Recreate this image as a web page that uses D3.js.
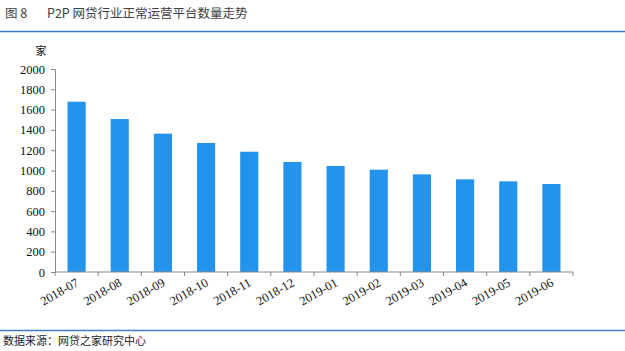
<!DOCTYPE html>
<html>
<head>
<meta charset="utf-8">
<script src="https://cdn.jsdelivr.net/npm/d3@7"></script>
<style>
  body { margin: 0; background: #fff; }
</style>
</head>
<body>
<div id="drawing"></div>
<script>
// chart values
const months = ["2018-07", "2018-08", "2018-09", "2018-10", "2018-11", "2018-12",
                "2019-01", "2019-02", "2019-03", "2019-04", "2019-05", "2019-06"];
const platforms = [1678, 1507, 1363, 1271, 1185, 1084, 1044, 1008, 962, 913, 893, 867];
const yTicks = [0, 200, 400, 600, 800, 1000, 1200, 1400, 1600, 1800, 2000];

const width = 625;
const height = 351;
const plot = {left: 55, right: 573, top: 69, bottom: 272};
const serif = "'Liberation Serif', 'Times New Roman', 'DejaVu Serif', serif";
const cjk = "'Noto Sans CJK SC', 'Noto Sans', sans-serif";

const svg = d3.select("#drawing").append("svg")
  .attr("width", width)
  .attr("height", height)
  .style("background", "#fff");

// header
svg.append("text")
  .attr("x", 5).attr("y", 18)
  .style("font-family", cjk)
  .style("font-size", "12.5px")
  .style("fill", "#404040")
  .text("图 8");
svg.append("text")
  .attr("x", 47).attr("y", 18)
  .style("font-family", cjk)
  .style("font-size", "12.5px")
  .style("fill", "#404040")
  .text("P2P 网贷行业正常运营平台数量走势");
svg.append("line")
  .attr("x1", 0).attr("x2", width)
  .attr("y1", 31.5).attr("y2", 31.5)
  .style("stroke", "#3b7fcf")
  .style("stroke-width", 1.5);

// footer
svg.append("line")
  .attr("x1", 0).attr("x2", width)
  .attr("y1", 330.5).attr("y2", 330.5)
  .style("stroke", "#3b7fcf")
  .style("stroke-width", 1.5);
svg.append("text")
  .attr("x", 3).attr("y", 345)
  .style("font-family", cjk)
  .style("font-size", "11px")
  .style("fill", "#222")
  .text("数据来源：网贷之家研究中心");

const xScale = d3.scaleBand()
  .domain(months)
  .range([plot.left, plot.right])
  .paddingInner(0.58)
  .paddingOuter(0.29);

const yScale = d3.scaleLinear()
  .domain([0, 2000])
  .range([plot.bottom, plot.top]);

// bars
svg.selectAll(".bar")
  .data(months)
  .enter()
  .append("rect")
    .attr("class", "bar")
    .attr("x", (d) => xScale(d))
    .attr("y", (d, i) => yScale(platforms[i]))
    .attr("width", xScale.bandwidth())
    .attr("height", (d, i) => plot.bottom - yScale(platforms[i]))
    .style("fill", "#2393ec");

// y axis
const yAxis = svg.append("g")
  .attr("transform", `translate(${plot.left},0)`)
  .attr("font-family", serif)
  .call(d3.axisLeft(yScale).tickValues(yTicks).tickFormat(d3.format("d")).tickSize(4).tickPadding(6));
yAxis.selectAll("text")
  .style("font-family", serif)
  .style("font-size", "12.5px")
  .style("fill", "#111");
yAxis.select(".domain").style("stroke", "#888");
yAxis.selectAll(".tick line").style("stroke", "#888");

svg.append("text")
  .attr("x", 41).attr("y", 55)
  .attr("text-anchor", "middle")
  .style("font-family", cjk)
  .style("font-size", "11px")
  .style("fill", "#111")
  .text("家");

// x axis: ticks sit between categories
const xAxis = svg.append("g")
  .attr("transform", `translate(0,${plot.bottom})`);
xAxis.append("line")
  .attr("x1", plot.left).attr("x2", plot.right)
  .style("stroke", "#888");
xAxis.selectAll(".tk")
  .data(d3.range(months.length + 1))
  .enter()
  .append("line")
    .attr("class", "tk")
    .attr("x1", (i) => plot.left + i * xScale.step())
    .attr("x2", (i) => plot.left + i * xScale.step())
    .attr("y1", 0).attr("y2", 4)
    .style("stroke", "#888");
xAxis.selectAll(".lbl")
  .data(months)
  .enter()
  .append("text")
    .attr("class", "lbl")
    .attr("text-anchor", "end")
    .attr("transform", (d) => `translate(${xScale(d) + xScale.bandwidth() / 2 + 3},${13}) rotate(-30)`)
    .style("font-family", serif)
    .style("font-size", "12.5px")
    .style("fill", "#111")
    .text((d) => d);
</script>
</body>
</html>
